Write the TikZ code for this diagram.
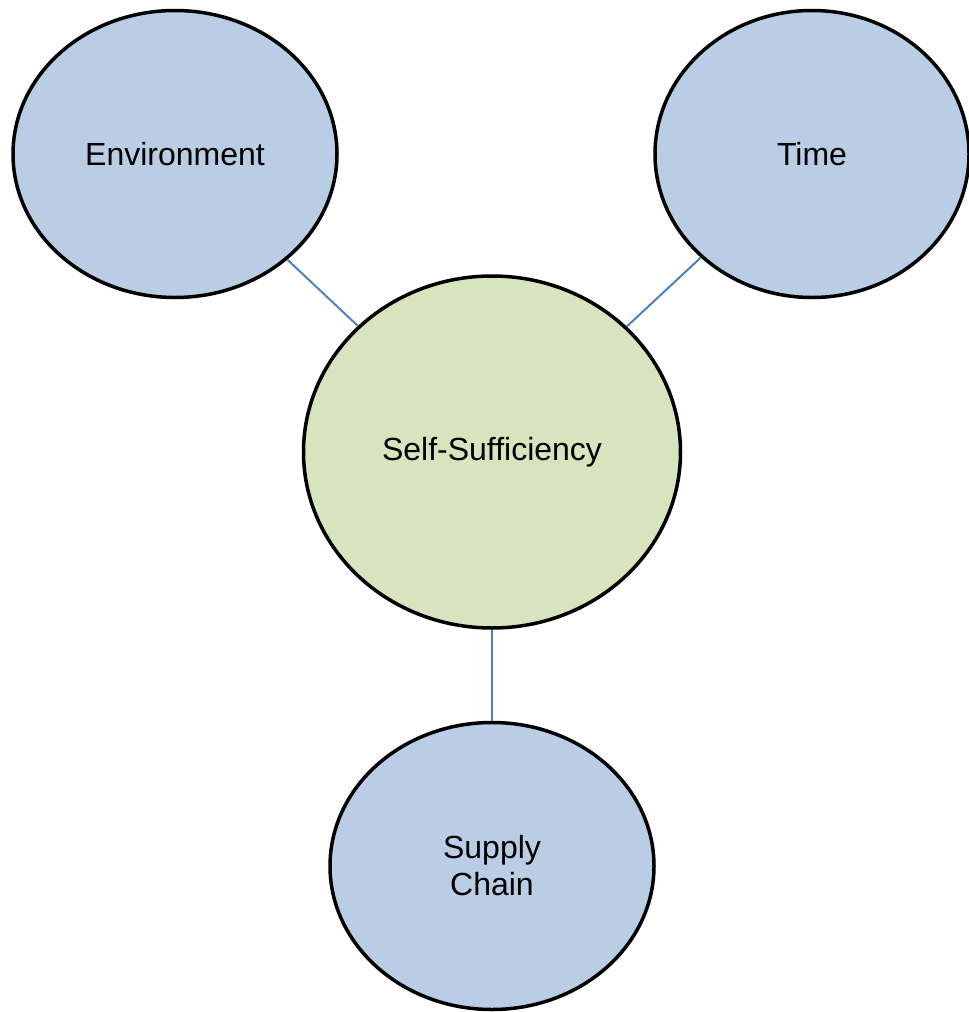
\documentclass[tikz,border=0pt]{standalone}
\usepackage{fontspec}
\setmainfont{Liberation Sans}
\usetikzlibrary{shapes.geometric}
\definecolor{bubbleblue}{HTML}{B9CDE5}
\definecolor{bubblegreen}{HTML}{D7E4BD}
\definecolor{linkblue}{HTML}{4F81BD}
\tikzstyle{outer} = [ellipse, draw=black, line width=3.5pt, fill=bubbleblue, inner sep=0pt, minimum width=324pt, minimum height=287pt, align=center, font=\fontsize{32}{37}\selectfont]
\tikzstyle{core} = [ellipse, draw=black, line width=3.5pt, fill=bubblegreen, inner sep=0pt, minimum width=377pt, minimum height=352pt, align=center, font=\fontsize{32}{37}\selectfont]

\begin{document}
\begin{tikzpicture}[x=1pt,y=-1pt]
        \tikzset{link/.style={draw=linkblue, line width=2pt}}
        \useasboundingbox (0,0) rectangle (969,1012);
        \node (selfSuff) [core] at (492,452) {Self-Sufficiency};
        \node (env) [outer] at (175,154) {Environment};
        \node (time) [outer, minimum width=314pt] at (812,154) {Time};
        \node (supply) [outer] at (492,866) {Supply\\Chain};

        \draw [link] (env) -- (selfSuff);
        \draw [link] (time) -- (selfSuff);
        \draw [link] (selfSuff) -- (supply);
    \end{tikzpicture}
\end{document}
